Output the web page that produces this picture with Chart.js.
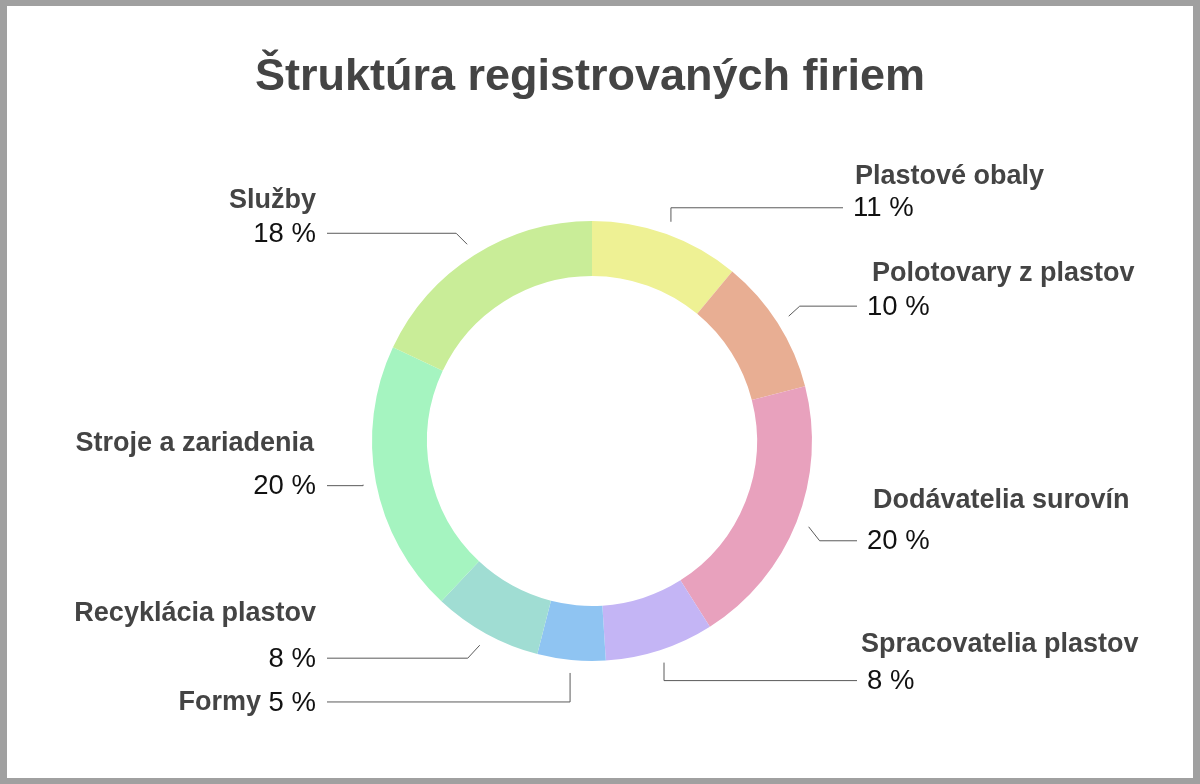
<!DOCTYPE html>
<html>
<head>
<meta charset="utf-8">
<script src="https://cdn.jsdelivr.net/npm/chart.js@4.4.1/dist/chart.umd.min.js"></script>
<style>
  html, body { margin: 0; padding: 0; width: 1200px; height: 784px; background: #a0a0a0; overflow: hidden; }
  #frame { position: absolute; left: 7px; top: 6px; width: 1186px; height: 772px; background: #ffffff; }
  #wrap { position: absolute; left: 0; top: 0; width: 1200px; height: 784px; }
</style>
</head>
<body>
<div id="frame"></div>
<div id="wrap"><canvas id="c"></canvas></div>
<script>
// ---- data ----
const titleText = 'Štruktúra registrovaných firiem';
const categories = ['Plastové obaly', 'Polotovary z plastov', 'Dodávatelia surovín', 'Spracovatelia plastov', 'Formy', 'Recyklácia plastov', 'Stroje a zariadenia', 'Služby'];
const shares = [11, 10, 20, 8, 5, 8, 20, 18];
const sliceColors = ['#EEF194', '#E8AE93', '#E8A1BD', '#C4B5F5', '#8FC4F2', '#A0DDD3', '#A5F4C0', '#C9ED98'];

// ---- callout layout (label placement only) ----
const calloutBend = [[0, -14], [11, -10], [11, 14], [0, 18], [0, 29], [-12, 13], [0, 1], [-11, -11]];
const calloutReach = [251, 265, 265, 265, 265, 265, 265, 265];
const nameRise = [32, 34, 41, 37, 0, 46, 43, 34];
const nameShift = [2, 5, 6, -6, 0, 0, -2, 0];
const inlineName = [false, false, false, false, true, false, false, false];

const titleFont = 'bold 45px "Liberation Sans", Arial, sans-serif';
const nameFont = 'bold 27px "Liberation Sans", Arial, sans-serif';
const pctFont = '27.5px "Liberation Sans", Arial, sans-serif';

const calloutPlugin = {
  id: 'callouts',
  afterDatasetsDraw(chart) {
    const ctx = chart.ctx;
    const meta = chart.getDatasetMeta(0);
    ctx.save();
    // title
    ctx.font = titleFont;
    ctx.fillStyle = '#444444';
    ctx.textAlign = 'center';
    ctx.textBaseline = 'alphabetic';
    ctx.fillText(titleText, 590, 90);

    meta.data.forEach((arc, i) => {
      const p = arc.getProps(['x', 'y', 'startAngle', 'endAngle', 'outerRadius'], true);
      const mid = (p.startAngle + p.endAngle) / 2;
      const r0 = p.outerRadius + 13;
      const ax = p.x + Math.cos(mid) * r0;
      const ay = p.y + Math.sin(mid) * r0;
      const bx = ax + calloutBend[i][0];
      const by = ay + calloutBend[i][1];
      const right = Math.cos(mid) >= 0 && i < 4;
      const ex = right ? p.x + calloutReach[i] : p.x - calloutReach[i];
      ctx.strokeStyle = '#5a5a5a';
      ctx.lineWidth = 1;
      ctx.beginPath();
      ctx.moveTo(ax, ay);
      ctx.lineTo(bx, by);
      ctx.lineTo(ex, by);
      ctx.stroke();

      const pct = shares[i] + ' %';
      ctx.textBaseline = 'middle';
      if (right) {
        const tx = ex + 10;
        ctx.font = pctFont; ctx.fillStyle = '#111111'; ctx.textAlign = 'left';
        ctx.fillText(pct, tx, by + 1);
        ctx.font = nameFont; ctx.fillStyle = '#444444';
        ctx.fillText(categories[i], tx + nameShift[i], by + 1 - nameRise[i]);
      } else {
        const tx = ex - 11;
        ctx.font = pctFont; ctx.fillStyle = '#111111'; ctx.textAlign = 'right';
        ctx.fillText(pct, tx, by + 1);
        ctx.font = nameFont; ctx.fillStyle = '#444444';
        if (inlineName[i]) {
          ctx.font = pctFont;
          const w = ctx.measureText(pct + ' ').width;
          ctx.font = nameFont;
          ctx.fillText(categories[i], tx - w, by + 1);
        } else {
          ctx.fillText(categories[i], tx + nameShift[i], by + 1 - nameRise[i]);
        }
      }
    });
    ctx.restore();
  }
};

new Chart(document.getElementById('c'), {
  type: 'doughnut',
  data: {
    labels: categories,
    datasets: [{
      data: shares,
      backgroundColor: sliceColors,
      borderWidth: 0,
      hoverOffset: 0
    }]
  },
  options: {
    responsive: true,
    maintainAspectRatio: false,
    animation: false,
    cutout: '75%',
    layout: { padding: { left: 372, right: 388, top: 121, bottom: 23 } },
    plugins: {
      legend: { display: false },
      tooltip: { enabled: false },
      title: { display: false }
    }
  },
  plugins: [calloutPlugin]
});
</script>
</body>
</html>
